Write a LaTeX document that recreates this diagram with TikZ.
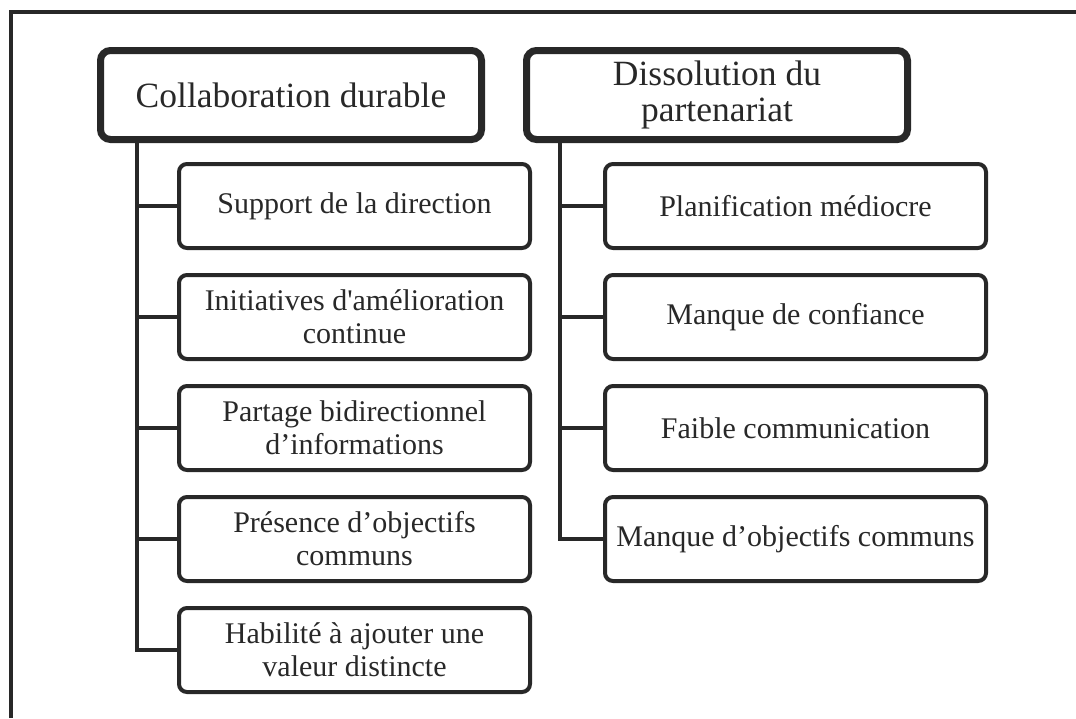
\documentclass[tikz,border=0pt]{standalone}
\usepackage{fontspec}
\setmainfont{Liberation Serif}
\definecolor{ink}{RGB}{40,40,40}

\begin{document}
\begin{tikzpicture}[x=1pt,y=-1pt,
  head/.style={draw=ink,text=ink,line width=7pt,rounded corners=10pt,
    minimum width=381pt,minimum height=89pt,align=center,
    font=\fontsize{35.5}{36}\selectfont},
  item/.style={draw=ink,text=ink,line width=4pt,rounded corners=8pt,
    minimum height=84pt,align=center,font=\fontsize{30}{33}\selectfont},
  link/.style={draw=ink,line width=4pt}]
  \useasboundingbox (0,0) rectangle (1076,718);
  % cadre
  \draw[ink,line width=4pt](11,718)--(11,12)--(1076,12);
  % en-tetes
  \node[head] (lhead) at (291,95) {Collaboration durable};
  \node[head] (rhead) at (717,95) {Dissolution du\\partenariat};
  \path (lhead.south west)++(39.5,0) coordinate (ltop);
  \path (rhead.south west)++(36.5,0) coordinate (rtop);
  % colonne gauche
  \foreach \i/\txt in {1/{Support de la direction},
                       2/{Initiatives d\textquotesingle amélioration\\continue},
                       3/{Partage bidirectionnel\\d’informations},
                       4/{Présence d’objectifs\\communs},
                       5/{Habilité à ajouter une\\valeur distincte}}
  {
    \node[item,minimum width=351pt] (l\i) at (354.5,{95+111*\i}) {\txt};
    \draw[link](ltop)|-(l\i.west);
  }
  % colonne droite
  \foreach \i/\txt in {1/{Planification médiocre},
                       2/{Manque de confiance},
                       3/{Faible communication},
                       4/{Manque d’objectifs communs}}
  {
    \node[item,minimum width=381pt] (r\i) at (795.5,{95+111*\i}) {\txt};
    \draw[link](rtop)|-(r\i.west);
  }
\end{tikzpicture}
\end{document}
